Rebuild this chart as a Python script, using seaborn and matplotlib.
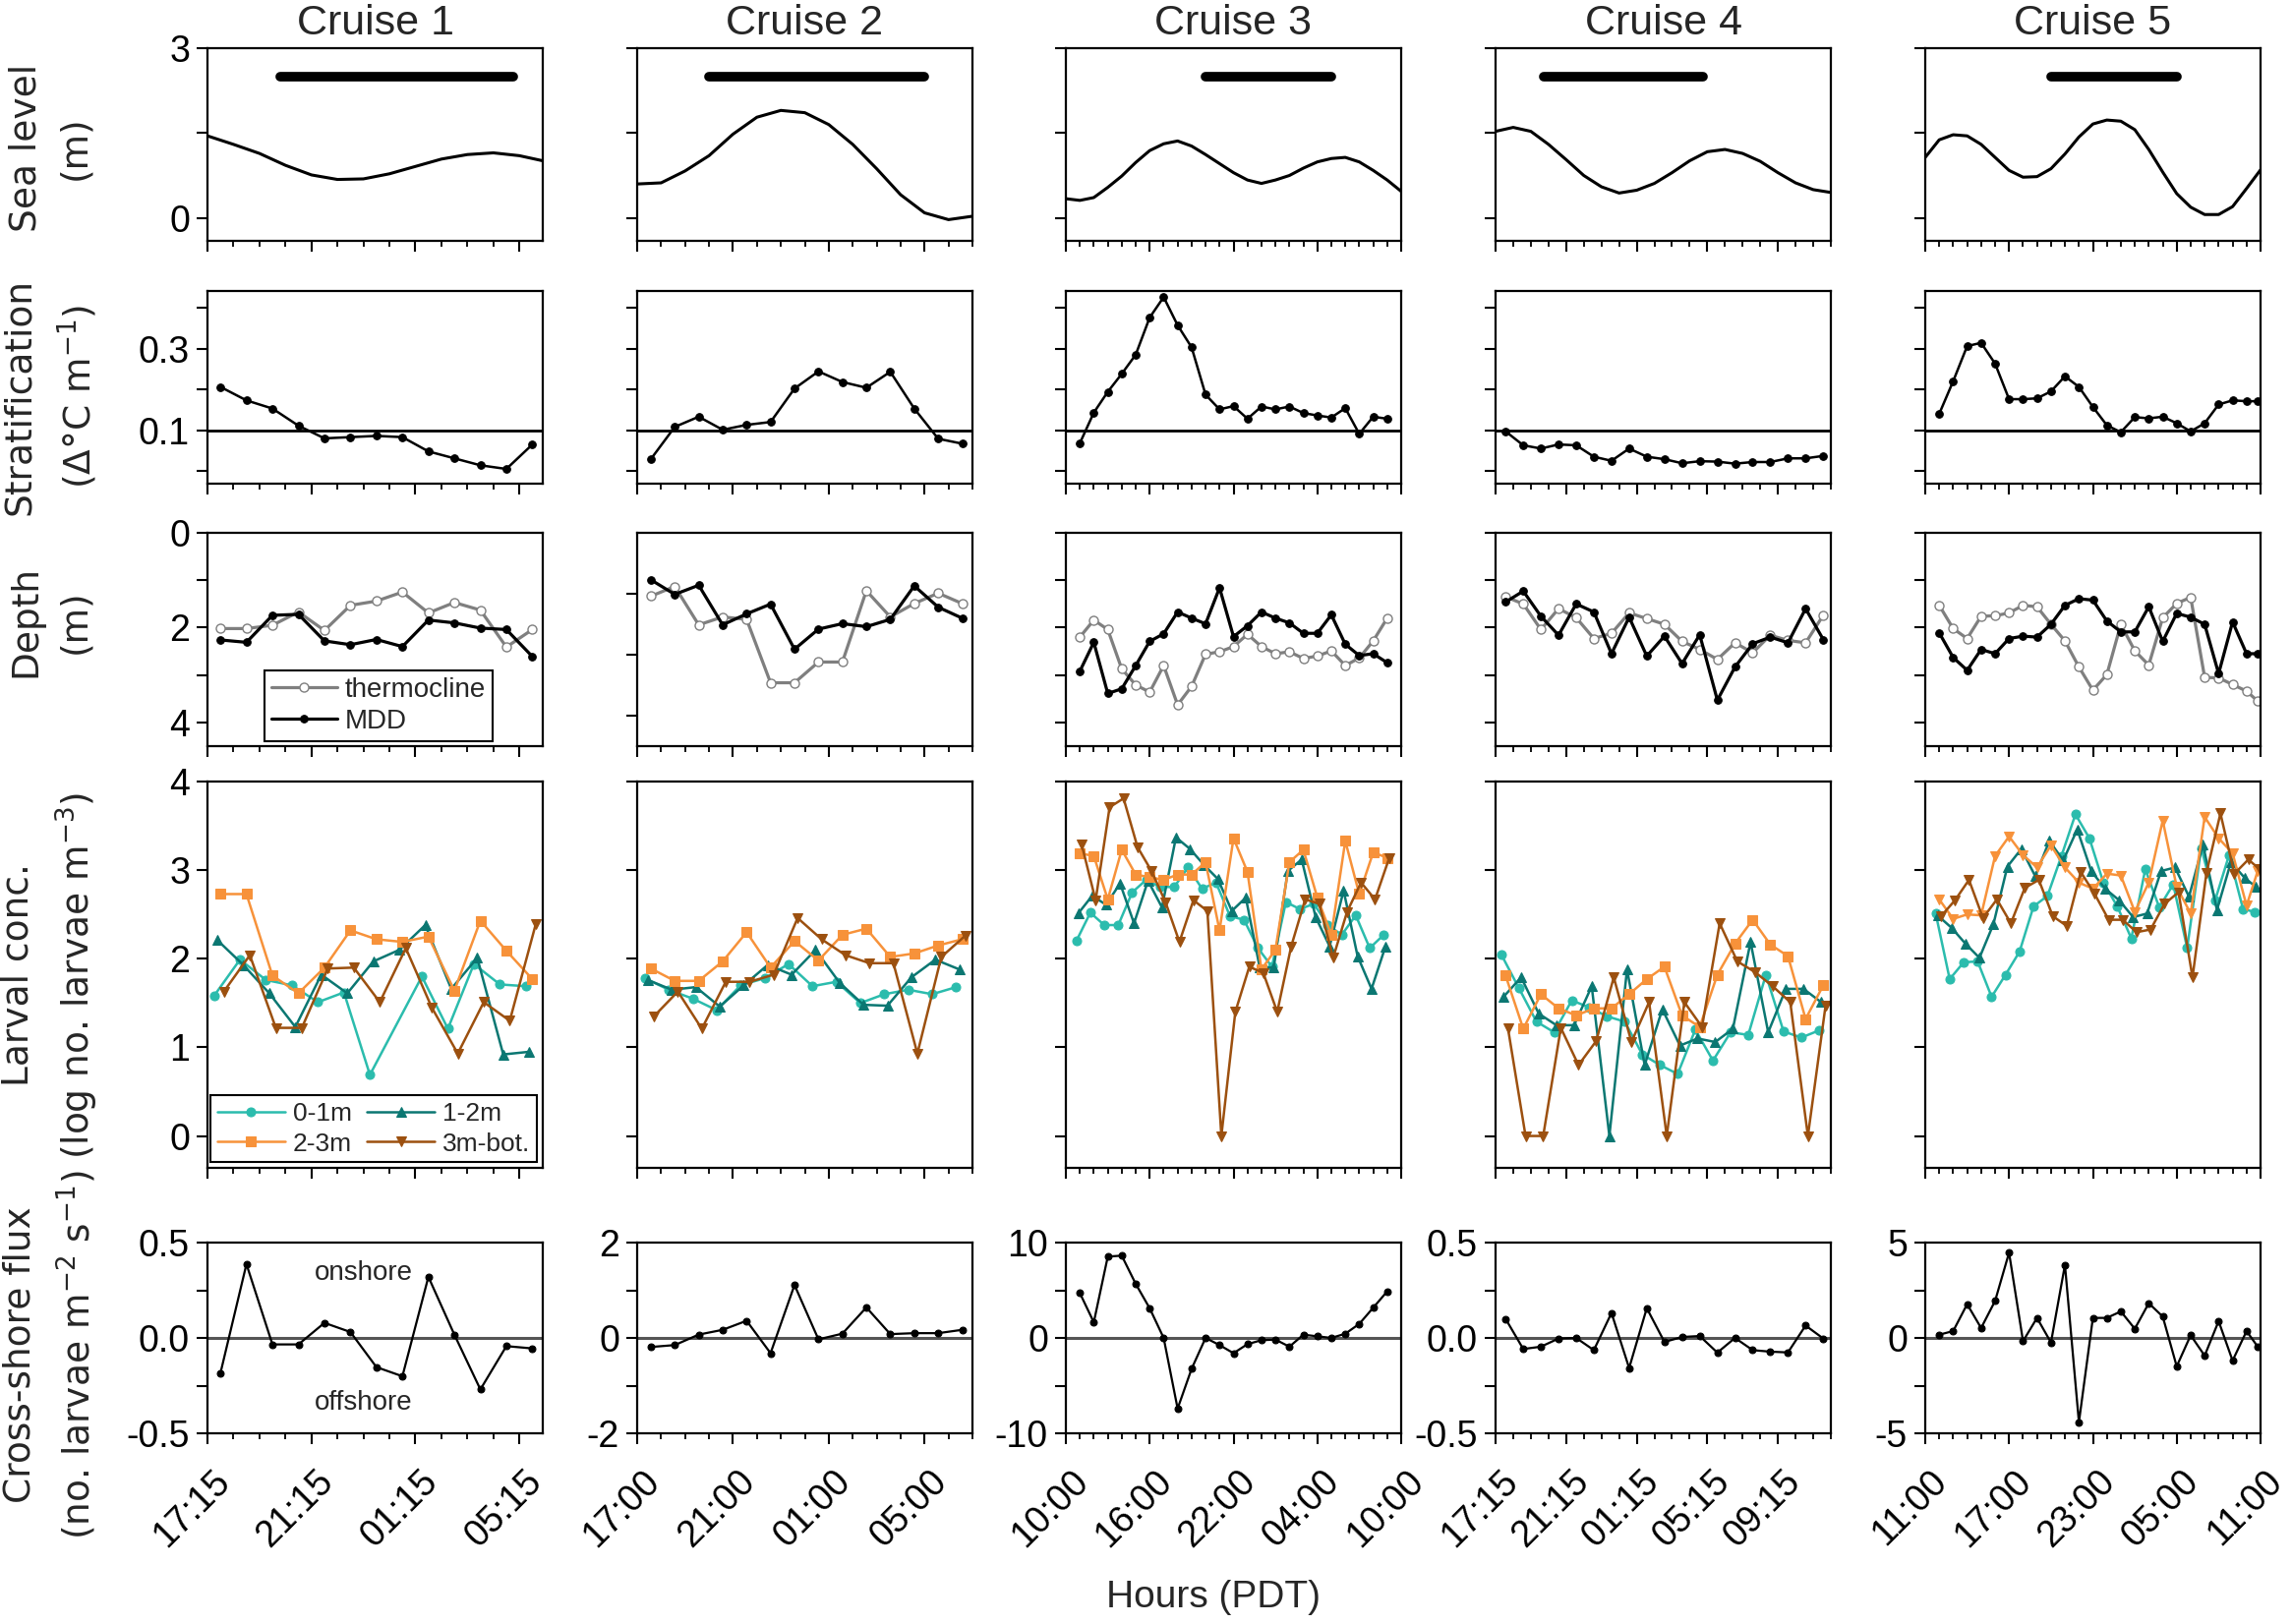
import numpy as np
import matplotlib.pyplot as plt
import matplotlib.transforms as mtransforms
from matplotlib.ticker import MultipleLocator
import seaborn as sns

sns.set_style('ticks')
plt.rcParams['font.family'] = ['Liberation Sans', 'DejaVu Sans']
plt.rcParams['axes.unicode_minus'] = False
plt.rcParams['mathtext.fontset'] = 'dejavusans'

nan = np.nan

# ---------------- layout / labels ----------------
cruise_names = ['Cruise 1', 'Cruise 2', 'Cruise 3', 'Cruise 4', 'Cruise 5']
x_max = [12.9, 14, 24, 19, 24]
x_major = [4, 4, 6, 4, 6]
x_labels = [['17:15', '21:15', '01:15', '05:15'],
            ['17:00', '21:00', '01:00', '05:00'],
            ['10:00', '16:00', '22:00', '04:00', '10:00'],
            ['17:15', '21:15', '01:15', '05:15', '09:15'],
            ['11:00', '17:00', '23:00', '05:00', '11:00']]
night = [(2.8, 11.75), (3.0, 12.0), (10.0, 19.0), (2.75, 11.75), (9.0, 18.0)]
bar_level = 2.5
row_labels = ['Sea level\n(m)', 'Stratification\n(\u0394\u00b0C m$^{-1}$)', 'Depth\n(m)',
              'Larval conc.\n(log no. larvae m$^{-3}$)',
              'Cross-shore flux\n(no. larvae m$^{-2}$ s$^{-1}$)']
flux_lim = [0.5, 2, 10, 0.5, 5]
flux_ticklabels = [['-0.5', '', '0.0', '', '0.5'], ['-2', '', '0', '', '2'],
                   ['-10', '', '0', '', '10'], ['-0.5', '', '0.0', '', '0.5'],
                   ['-5', '', '0', '', '5']]
layers = ['0-1m', '1-2m', '2-3m', '3m-bot.']
layer_colors = ['#2bbcad', '#0b7772', '#f7923a', '#9c500f']
layer_offset = [-0.25, -0.12, 0.0, 0.13]

# ---------------- sea level (m) ----------------
sl_t1 = [0, 1, 2, 3, 4, 5, 6, 7, 8, 9, 10, 11, 12, 12.9]
sl_1 = [1.45, 1.30, 1.14, 0.93, 0.76, 0.68, 0.69, 0.78, 0.91, 1.04, 1.12, 1.15, 1.10, 1.01]
sl_t2 = list(range(15))
sl_2 = [0.60, 0.62, 0.83, 1.10, 1.48, 1.78, 1.90, 1.86, 1.65, 1.30, 0.87, 0.41, 0.09, -0.03, 0.03]
sl_t3 = list(range(25))
sl_3 = [0.34, 0.31, 0.36, 0.54, 0.74, 0.98, 1.19, 1.31, 1.36, 1.27, 1.12, 0.96, 0.80, 0.67,
        0.61, 0.67, 0.75, 0.88, 0.99, 1.05, 1.07, 0.99, 0.84, 0.67, 0.47]
sl_t4 = list(range(20))
sl_4 = [1.53, 1.60, 1.53, 1.30, 1.03, 0.75, 0.55, 0.44, 0.49, 0.61, 0.80, 1.01, 1.17, 1.21,
        1.14, 1.00, 0.80, 0.62, 0.50, 0.45]
sl_t5 = list(range(25))
sl_5 = [1.07, 1.38, 1.47, 1.45, 1.30, 1.07, 0.84, 0.72, 0.73, 0.87, 1.13, 1.43, 1.66, 1.73,
        1.71, 1.56, 1.21, 0.81, 0.43, 0.19, 0.06, 0.06, 0.20, 0.52, 0.85]

# ---------------- sampling times (h after start) ----------------
t1 = np.arange(13) + 0.5
t2 = np.arange(14) + 0.57
t3 = np.arange(1, 24)
t4 = np.arange(19) + 0.57
t5 = np.append(np.arange(1, 24), 23.8)

# ---------------- stratification ----------------
strat_1 = [0.206, 0.173, 0.153, 0.111, 0.080, 0.083, 0.086, 0.083, 0.048, 0.031, 0.014, 0.005, 0.065]
strat_2 = [0.029, 0.108, 0.133, 0.101, 0.113, 0.120, 0.202, 0.244, 0.218, 0.204, 0.243, 0.153, 0.079, 0.067]
strat_3 = [0.068, 0.143, 0.194, 0.238, 0.285, 0.376, 0.426, 0.357, 0.303, 0.187, 0.151, 0.159,
           0.128, 0.158, 0.151, 0.158, 0.142, 0.136, 0.131, 0.154, 0.091, 0.133, 0.128]
strat_4 = [0.097, 0.063, 0.055, 0.065, 0.063, 0.035, 0.025, 0.055, 0.035, 0.029, 0.019, 0.024,
           0.023, 0.018, 0.022, 0.022, 0.031, 0.031, 0.037]
strat_5 = [0.140, 0.220, 0.306, 0.314, 0.263, 0.176, 0.176, 0.178, 0.195, 0.232, 0.206, 0.157,
           0.112, 0.095, 0.132, 0.129, 0.133, 0.117, 0.097, 0.117, 0.163, 0.173, 0.171, 0.171]

# ---------------- thermocline / MDD depth (m) ----------------
thermo_1 = [2.02, 2.02, 1.95, 1.67, 2.06, 1.53, 1.44, 1.25, 1.69, 1.47, 1.63, 2.41, 2.04]
mdd_1 = [2.26, 2.31, 1.74, 1.72, 2.28, 2.36, 2.25, 2.40, 1.84, 1.90, 2.01, 2.04, 2.61]
thermo_2 = [1.04, 0.88, 1.51, 1.38, 1.42, 2.46, 2.46, 2.12, 2.12, 0.95, 1.38, 1.16, 0.99, 1.16]
mdd_2 = [0.77, 1.01, 0.86, 1.51, 1.33, 1.17, 1.91, 1.58, 1.49, 1.54, 1.42, 0.87, 1.22, 1.40]
thermo_3 = [2.20, 1.84, 2.04, 2.87, 3.21, 3.36, 2.80, 3.63, 3.24, 2.56, 2.51, 2.40, 2.14, 2.40,
            2.55, 2.51, 2.65, 2.60, 2.49, 2.80, 2.64, 2.28, 1.80]
mdd_3 = [2.92, 2.31, 3.39, 3.29, 2.80, 2.29, 2.13, 1.67, 1.80, 1.92, 1.16, 2.19, 1.96, 1.67,
         1.80, 1.90, 2.12, 2.12, 1.73, 2.35, 2.59, 2.55, 2.74]
thermo_4 = [1.35, 1.50, 2.04, 1.60, 1.79, 2.23, 2.12, 1.69, 1.81, 1.93, 2.29, 2.46, 2.67, 2.32,
            2.53, 2.16, 2.27, 2.32, 1.74]
mdd_4 = [1.46, 1.23, 1.76, 2.16, 1.50, 1.67, 2.55, 1.78, 2.60, 2.18, 2.76, 2.15, 3.53, 2.83,
         2.34, 2.20, 2.32, 1.60, 2.25]
thermo_5 = [1.53, 2.02, 2.23, 1.76, 1.75, 1.69, 1.53, 1.56, 1.93, 2.28, 2.83, 3.32, 2.99, 1.93,
            2.49, 2.79, 1.79, 1.49, 1.36, 3.05, 3.06, 3.20, 3.34, 3.55]
mdd_5 = [2.11, 2.63, 2.90, 2.46, 2.55, 2.23, 2.18, 2.20, 1.93, 1.53, 1.39, 1.42, 1.86, 2.09,
         2.09, 1.56, 2.29, 1.70, 1.78, 1.93, 2.97, 1.88, 2.55, 2.55]

# ---------------- larval concentration (log no. m-3) ----------------
l01_1 = [1.58, 1.99, 1.76, 1.70, 1.51, 1.62, 0.69, nan, 1.80, 1.21, 1.94, 1.71, 1.69]
l12_1 = [2.21, 1.93, 1.61, 1.23, 1.82, 1.61, 1.97, 2.10, 2.38, 1.66, 2.01, 0.92, 0.95]
l23_1 = [2.73, 2.73, 1.81, 1.61, 1.90, 2.32, 2.22, 2.19, 2.25, 1.64, 2.43, 2.09, 1.77]
l3b_1 = [1.63, 2.04, 1.22, 1.22, 1.89, 1.90, 1.51, 2.12, 1.45, 0.93, 1.51, 1.30, 2.39]

l01_2 = [1.78, 1.65, 1.55, 1.42, 1.70, 1.78, 1.94, 1.69, 1.74, 1.50, 1.60, 1.65, 1.60, 1.68]
l12_2 = [1.76, 1.65, 1.68, 1.46, 1.70, 1.93, 1.82, 2.10, 1.73, 1.48, 1.47, 1.79, 1.99, 1.88]
l23_2 = [1.89, 1.75, 1.75, 1.97, 2.30, 1.90, 2.20, 1.98, 2.27, 2.34, 2.02, 2.06, 2.15, 2.22]
l3b_2 = [1.35, 1.63, 1.21, 1.74, 1.74, 1.82, 2.46, 2.22, 2.04, 1.95, 1.95, 0.93, 2.02, 2.26]

l01_3 = [2.20, 2.52, 2.38, 2.38, 2.75, 2.89, 2.81, 2.81, 3.03, 2.79, 2.86, 2.48, 2.44, 2.12,
         1.91, 2.64, 2.56, 2.62, 2.38, 2.27, 2.49, 2.12, 2.27]
l12_3 = [2.51, 2.71, 2.61, 2.85, 2.40, 2.88, 2.58, 3.37, 3.24, 3.06, 2.90, 2.54, 2.69, 1.90,
         1.90, 2.99, 3.12, 2.47, 2.14, 2.77, 2.03, 1.66, 2.14]
l23_3 = [3.19, 3.16, 2.67, 3.23, 2.95, 2.92, 2.89, 2.95, 2.95, 3.09, 2.32, 3.36, 2.98, 1.88,
         2.10, 3.09, 3.23, 2.69, 2.27, 3.33, 2.73, 3.20, 3.14]
l3b_3 = [3.29, 2.66, 3.71, 3.81, 3.26, 2.99, 2.64, 2.19, 2.66, 2.54, 0.0, 1.40, 1.91, 1.84,
         1.40, 2.14, 2.67, 2.62, 2.01, 2.53, 2.86, 2.67, 3.13]

l01_4 = [2.05, 1.67, 1.29, 1.17, 1.53, 1.45, 1.35, 1.29, 0.92, 0.80, 0.70, 1.20, 0.85, 1.17,
         1.14, 1.82, 1.18, 1.11, 1.19]
l12_4 = [1.57, 1.79, 1.38, 1.25, 1.25, 1.69, 0.0, 1.88, 0.80, 1.43, 1.02, 1.10, 1.06, 1.21,
         2.19, 1.17, 1.66, 1.66, 1.51]
l23_4 = [1.81, 1.21, 1.60, 1.44, 1.36, 1.44, 1.44, 1.60, 1.77, 1.91, 1.36, 1.23, 1.82, 2.17,
         2.44, 2.16, 2.03, 1.32, 1.70]
l3b_4 = [1.22, 0.0, 0.0, 1.22, 0.80, 1.07, 1.79, 1.06, 1.51, 0.0, 1.51, 1.23, 2.40, 1.97,
         1.85, 1.69, 1.51, 0.0, 1.47]

l01_5 = [2.51, 1.77, 1.96, 1.97, 1.57, 1.82, 2.08, 2.59, 2.71, 3.16, 3.63, 3.36, 2.86, 2.59,
         2.23, 3.01, 2.58, 2.84, 2.12, 3.25, 2.66, 3.17, 2.56, 2.53]
l12_5 = [2.49, 2.35, 2.17, 2.01, 2.39, 3.04, 3.24, 2.93, 3.33, 3.11, 3.46, 2.99, 2.79, 2.66,
         2.47, 2.51, 2.99, 3.03, 2.70, 3.29, 2.55, 3.09, 2.91, 2.81]
l23_5 = [2.67, 2.45, 2.50, 2.49, 3.16, 3.38, 3.17, 3.03, 3.28, 3.03, 2.86, 2.79, 2.96, 2.94,
         2.53, 2.86, 3.56, 2.81, 2.51, 3.60, 3.36, 3.19, 2.60, 2.99]
l3b_5 = [2.48, 2.66, 2.89, 2.46, 2.67, 2.40, 2.80, 2.89, 2.48, 2.37, 2.98, 2.73, 2.44, 2.44,
         2.30, 2.33, 2.62, 2.75, 1.79, 2.97, 3.64, 2.96, 3.12, 3.01]

# ---------------- cross-shore flux (no. larvae m-2 s-1) ----------------
flux_1 = [-0.184, 0.387, -0.034, -0.034, 0.079, 0.031, -0.153, -0.201, 0.320, 0.017, -0.270, -0.043, -0.055]
flux_2 = [-0.19, -0.15, 0.07, 0.17, 0.36, -0.32, 1.11, -0.03, 0.09, 0.64, 0.08, 0.10, 0.10, 0.17]
flux_3 = [4.71, 1.64, 8.53, 8.63, 5.67, 3.11, 0.0, -7.41, -3.24, 0.0, -0.75, -1.60, -0.65, -0.24,
          -0.17, -0.92, 0.34, 0.17, 0.0, 0.44, 1.47, 3.17, 4.88]
flux_4 = [0.10, -0.058, -0.046, -0.003, 0.0, -0.064, 0.131, -0.158, 0.156, -0.021, 0.005, 0.010,
          -0.077, 0.0, -0.064, -0.072, -0.076, 0.065, -0.003]
flux_5 = [0.17, 0.36, 1.77, 0.52, 1.94, 4.47, -0.17, 1.05, -0.24, 3.83, -4.42, 1.05, 1.05, 1.39,
          0.48, 1.82, 1.12, -1.49, 0.14, -0.93, 0.88, -1.19, 0.36, -0.46]

sl_t = [sl_t1, sl_t2, sl_t3, sl_t4, sl_t5]
sl = [sl_1, sl_2, sl_3, sl_4, sl_5]
times = [t1, t2, t3, t4, t5]
strat = [strat_1, strat_2, strat_3, strat_4, strat_5]
thermo = [thermo_1, thermo_2, thermo_3, thermo_4, thermo_5]
mdd = [mdd_1, mdd_2, mdd_3, mdd_4, mdd_5]
larv = [[l01_1, l12_1, l23_1, l3b_1], [l01_2, l12_2, l23_2, l3b_2], [l01_3, l12_3, l23_3, l3b_3],
        [l01_4, l12_4, l23_4, l3b_4], [l01_5, l12_5, l23_5, l3b_5]]
flux = [flux_1, flux_2, flux_3, flux_4, flux_5]


def draw_line(ax, x, y, **kw):
    x = np.asarray(x, float)
    y = np.asarray(y, float)
    ok = ~np.isnan(y)
    sns.lineplot(x=x[ok], y=y[ok], ax=ax, estimator=None, errorbar=None,
                 legend=False, sort=False, **kw)


def style(ax):
    for s in ax.spines.values():
        s.set_visible(True)
        s.set_linewidth(1.6)
        s.set_color('black')
    ax.tick_params(which='major', direction='out', length=8, width=1.5,
                   colors='black', labelsize=27, pad=5)
    ax.tick_params(which='minor', direction='out', length=4.5, width=1.3, colors='black')
    ax.tick_params(top=False, right=False, which='both')
    ax.grid(False)
    ax.set_facecolor('white')
    ax.set_xlabel('')
    ax.set_ylabel('')


W, H = 2331, 1652
fig = plt.figure(figsize=(W / 100, H / 100), dpi=100, facecolor='white')
col_left = [211, 648, 1084, 1521, 1958]
col_w = 341
row_box = [(49, 245), (296, 492), (542, 759), (795, 1188), (1264, 1458)]
axes = [[fig.add_axes([l / W, 1 - b / H, col_w / W, (b - t) / H]) for l in col_left]
        for (t, b) in row_box]

xshift = mtransforms.ScaledTranslation(-16 / 100, 0, fig.dpi_scale_trans)

for c in range(5):
    # row 1: sea level
    ax = axes[0][c]
    draw_line(ax, sl_t[c], sl[c], color='black', linewidth=2.2)
    ax.plot(list(night[c]), [bar_level, bar_level], color='black', lw=7,
            solid_capstyle='round')
    ax.set_ylim(-0.405, 3)
    ax.set_yticks([0, 1.5, 3])
    ax.set_yticklabels(['0', '', '3'] if c == 0 else ['', '', ''])
    ax.set_title(cruise_names[c], fontsize=31, pad=10)

    # row 2: stratification
    ax = axes[1][c]
    ax.axhline(0.1, color='black', lw=2)
    draw_line(ax, times[c], strat[c], color='black', linewidth=1.8, marker='o',
              markersize=5.5, markeredgecolor='black', markerfacecolor='black')
    ax.set_ylim(-0.031, 0.441)
    ax.set_yticks([0, 0.1, 0.2, 0.3, 0.4])
    ax.set_yticklabels(['', '0.1', '', '0.3', ''] if c == 0 else [''] * 5)

    # row 3: thermocline and MDD
    ax = axes[2][c]
    draw_line(ax, times[c], thermo[c], color='#7f7f7f', linewidth=2.3, marker='o',
              markersize=6.5, markeredgecolor='#7f7f7f', markerfacecolor='white',
              markeredgewidth=1, label='thermocline')
    draw_line(ax, times[c], mdd[c], color='black', linewidth=2.3, marker='o',
              markersize=5.5, markeredgecolor='black', markerfacecolor='black',
              label='MDD')
    if c == 1:
        ax.set_ylim(3.5, 0)
        ax.set_yticks([1, 2, 3])
        ax.set_yticklabels(['', '', ''])
    else:
        ax.set_ylim(4.5, 0)
        ax.set_yticks([0, 1, 2, 3, 4])
        ax.set_yticklabels(['0', '', '2', '', '4'] if c == 0 else [''] * 5)
    if c == 0:
        h, lab = ax.get_legend_handles_labels()
        leg = ax.legend(h, lab, loc='lower left', bbox_to_anchor=(0.17, 0.025),
                        borderaxespad=0, fontsize=20, frameon=True, fancybox=False,
                        edgecolor='black', framealpha=1, handlelength=2.4,
                        handletextpad=0.3, labelspacing=0.2, borderpad=0.25)
        leg.get_frame().set_linewidth(1.5)

    # row 4: larval concentration
    ax = axes[3][c]
    for k in range(4):
        mk = ['o', '^', 's', 'v'][k]
        if c == 4 and k == 2:
            mk = 'v'
        draw_line(ax, np.asarray(times[c]) + layer_offset[k], larv[c][k],
                  color=layer_colors[k], linewidth=1.8, marker=mk, markersize=6.5,
                  markeredgecolor=layer_colors[k], markerfacecolor=layer_colors[k],
                  label=layers[k])
    ax.set_ylim(-0.36, 4)
    ax.set_yticks([0, 1, 2, 3, 4])
    ax.set_yticklabels(['0', '1', '2', '3', '4'] if c == 0 else [''] * 5)
    if c == 0:
        h, lab = ax.get_legend_handles_labels()
        order = [0, 2, 1, 3]
        leg = ax.legend([h[i] for i in order], [lab[i] for i in order], ncol=2,
                        loc='lower left', bbox_to_anchor=(0.01, 0.015), borderaxespad=0,
                        fontsize=19, frameon=True, fancybox=False, edgecolor='black',
                        framealpha=1, handlelength=2.6, handletextpad=0.3,
                        columnspacing=0.6, labelspacing=0.25, borderpad=0.25)
        leg.get_frame().set_linewidth(1.5)

    # row 5: cross-shore flux
    ax = axes[4][c]
    ax.axhline(0, color='#555555', lw=2.2)
    draw_line(ax, times[c], flux[c], color='black', linewidth=1.6, marker='o',
              markersize=5, markeredgecolor='black', markerfacecolor='black')
    lim = flux_lim[c]
    ax.set_ylim(-lim, lim)
    ax.set_yticks([-lim, -lim / 2, 0, lim / 2, lim])
    ax.set_yticklabels(flux_ticklabels[c])
    if c == 0:
        ax.text(6.0, 0.34, 'onshore', fontsize=20, ha='center', va='center')
        ax.text(6.0, -0.34, 'offshore', fontsize=20, ha='center', va='center')

    # shared x axis styling per column
    ticks = list(range(0, int(x_max[c]) + 1, x_major[c]))
    for r in range(5):
        ax = axes[r][c]
        style(ax)
        ax.set_xlim(0, x_max[c])
        ax.set_xticks(ticks)
        ax.xaxis.set_minor_locator(MultipleLocator(1))
        if r == 4:
            ax.set_xticklabels(x_labels[c], rotation=45, ha='center', va='top')
            ax.tick_params(axis='x', which='major', pad=14)
            for lab in ax.get_xticklabels():
                lab.set_transform(lab.get_transform() + xshift)
        else:
            ax.set_xticklabels([''] * len(ticks))
            ax.tick_params(axis='x', labelbottom=False)

# row labels
row_centers = [150, 403, 632, 992, 1378]
for lab, yc in zip(row_labels, row_centers):
    fig.text(0.022, 1 - yc / H, lab, rotation=90, ha='center', va='center',
             fontsize=27, family=['DejaVu Sans'], linespacing=1.5,
             multialignment='center')

fig.text(1234 / W, 1 - 1625 / H, 'Hours (PDT)', ha='center', va='center', fontsize=28)

fig.savefig('out.png', dpi=100, facecolor='white')
